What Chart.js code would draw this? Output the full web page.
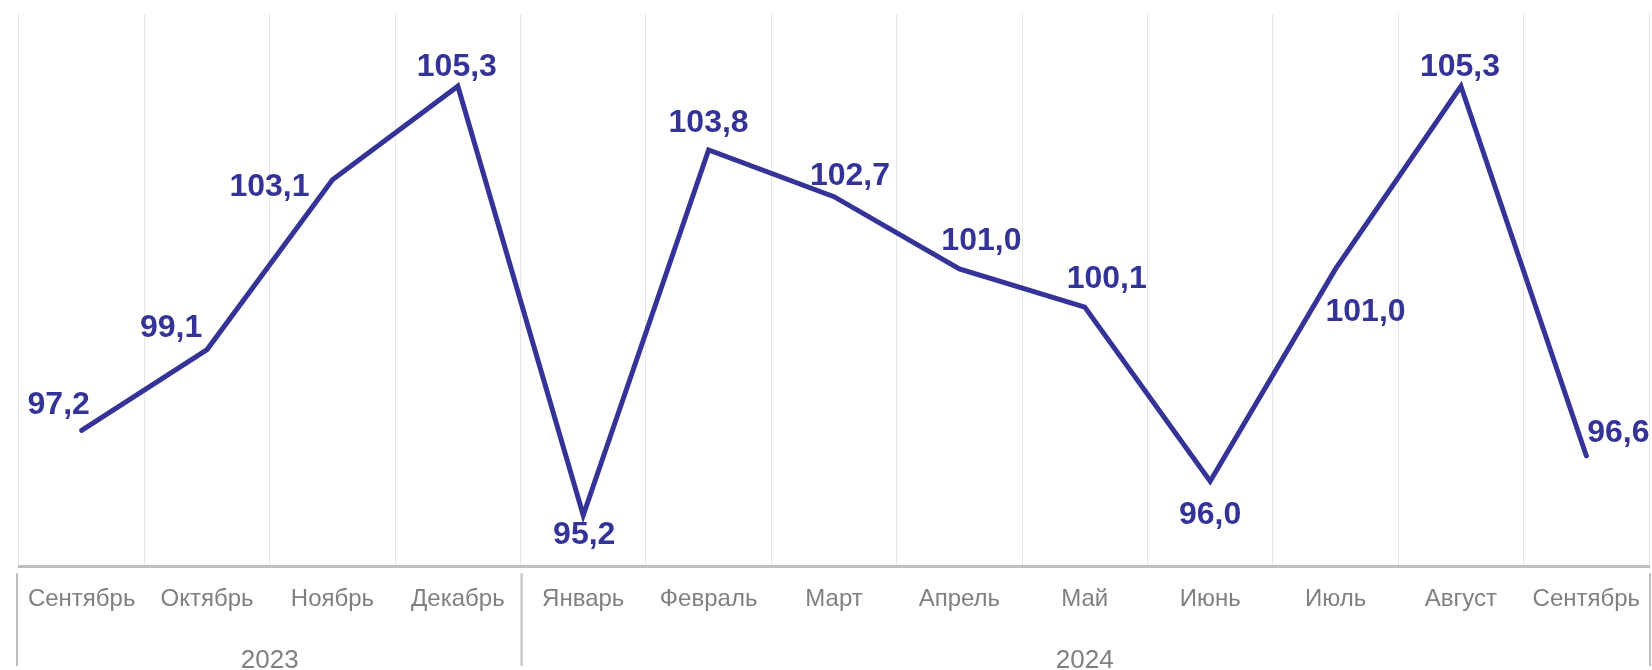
<!DOCTYPE html>
<html>
<head>
<meta charset="utf-8">
<script src="https://cdn.jsdelivr.net/npm/chart.js@4.4.1/dist/chart.umd.min.js"></script>
<style>
    html, body { margin: 0; padding: 0; background: #ffffff; }
    #wrap { width: 1652px; height: 670px; position: relative; }
</style>
</head>
<body>
<div id="wrap"><canvas id="chart"></canvas></div>
<script>
// Months shown on the x axis
const months = ['Сентябрь', 'Октябрь', 'Ноябрь', 'Декабрь', 'Январь', 'Февраль', 'Март',
    'Апрель', 'Май', 'Июнь', 'Июль', 'Август', 'Сентябрь'];
// Index values
const values = [97.2, 99.1, 103.1, 105.3, 95.2, 103.8, 102.7, 101.0, 100.1, 96.0, 101.0, 105.3, 96.6];
// Year groups under the months: label and how many months each covers
const years = ['2023', '2024'];
const yearSpans = [4, 9];
// Where each value label sits relative to its point
const labelSides = ['tl', 'lt', 'l', 't', 'b', 'tt', 'rt', 'tr', 'tr', 'bb', 'br', 't', 'r'];

const lineColor = '#343398';
const textGray = '#808080';
const fontFamily = '"Liberation Sans", Arial, sans-serif';

// Offsets of the label centre from the point, per side
const sideOffsets = {
    t: [-1, -19], tt: [0, -27], b: [1, 20], bb: [0, 34], l: [-63, 8], r: [32, -23],
    tl: [-23, -25], lt: [-36, -21], tr: [22, -28], rt: [16, -20], br: [30, 43]
};

// Draw the value labels next to each point
const valueLabels = {
    id: 'valueLabels',
    afterDatasetsDraw(chart) {
        const ctx = chart.ctx;
        const meta = chart.getDatasetMeta(0);
        ctx.save();
        ctx.font = 'bold 32px ' + fontFamily;
        ctx.fillStyle = lineColor;
        ctx.textAlign = 'center';
        ctx.textBaseline = 'middle';
        meta.data.forEach((pt, i) => {
            const off = sideOffsets[labelSides[i]];
            const txt = values[i].toFixed(1).replace('.', ',');
            ctx.fillText(txt, pt.x + off[0], pt.y + off[1]);
        });
        ctx.restore();
    }
};

// Draw the year row with separators under the month labels
const yearRow = {
    id: 'yearRow',
    afterDraw(chart) {
        const ctx = chart.ctx;
        const area = chart.chartArea;
        const step = (area.right - area.left) / months.length;
        const top = area.bottom + 7;
        const bottom = area.bottom + 100;
        ctx.save();
        ctx.strokeStyle = '#bfbfbf';
        ctx.lineWidth = 2;
        ctx.font = '26px ' + fontFamily;
        ctx.fillStyle = textGray;
        ctx.textAlign = 'center';
        ctx.textBaseline = 'middle';
        let start = 0;
        const edges = [area.left - 2];
        years.forEach((y, i) => {
            const x0 = area.left + start * step;
            const x1 = area.left + (start + yearSpans[i]) * step;
            edges.push(x1 + 1);
            ctx.fillText(y, (x0 + x1) / 2, area.bottom + 95);
            start += yearSpans[i];
        });
        edges.forEach(x => {
            ctx.beginPath();
            ctx.moveTo(x, top);
            ctx.lineTo(x, bottom);
            ctx.stroke();
        });
        ctx.restore();
    }
};

const ctx = document.getElementById('chart').getContext('2d');
new Chart(ctx, {
    type: 'line',
    data: {
        labels: months,
        datasets: [{
            data: values,
            borderColor: lineColor,
            borderWidth: 5,
            borderCapStyle: 'round',
            pointRadius: 0,
            pointHoverRadius: 0,
            tension: 0,
            fill: false
        }]
    },
    options: {
        responsive: true,
        maintainAspectRatio: false,
        animation: false,
        events: [],
        layout: { padding: { top: 14, left: 19, right: 3, bottom: 47 } },
        plugins: {
            legend: { display: false },
            tooltip: { enabled: false }
        },
        scales: {
            x: {
                offset: true,
                grid: {
                    offset: true,
                    color: '#e6e6e6',
                    lineWidth: 1,
                    drawTicks: true,
                    tickLength: 10,
                    tickColor: 'rgba(0,0,0,0)'
                },
                border: { color: '#bfbfbf', width: 3 },
                ticks: {
                    color: textGray,
                    padding: 9,
                    maxRotation: 0,
                    autoSkip: false,
                    font: { family: fontFamily, size: 24 }
                }
            },
            y: {
                display: false,
                min: 94,
                max: 107
            }
        }
    },
    plugins: [valueLabels, yearRow]
});
</script>
</body>
</html>
